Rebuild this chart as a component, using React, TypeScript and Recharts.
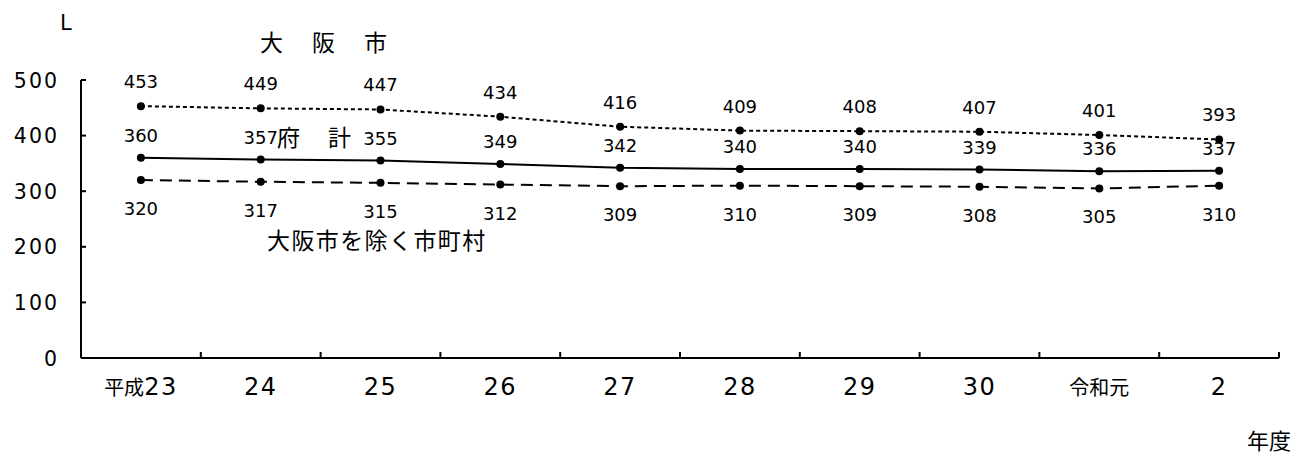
import React from 'react';
import { LineChart, Line, XAxis, YAxis, LabelList, Customized } from 'recharts';

const categories = ['平成23', '24', '25', '26', '27', '28', '29', '30', '令和元', '2'];
const osakaCity = [453, 449, 447, 434, 416, 409, 408, 407, 401, 393];
const prefTotal = [360, 357, 355, 349, 342, 340, 340, 339, 336, 337];
const otherMunicipalities = [320, 317, 315, 312, 309, 310, 309, 308, 305, 310];
const yTicks = [0, 100, 200, 300, 400, 500];

const data = categories.map((c, i) => ({
  year: c,
  osaka: osakaCity[i],
  total: prefTotal[i],
  others: otherMunicipalities[i],
}));

const W = 1296;
const H = 454;
const Y_W = 81;
const X_H = 96;
const MARGIN = { top: 80, right: 17, bottom: 0, left: 0 };
const BAND = (W - MARGIN.right - Y_W) / categories.length;

const NUM_FONT = '"DejaVu Sans", "Noto Sans CJK JP", sans-serif';
const CJK_FONT = '"Noto Sans CJK JP", "DejaVu Sans", sans-serif';

const YTick = (props: any) => {
  const { x, y, payload } = props;
  return (
    <g>
      <line x1={x} x2={x + 5} y1={y} y2={y} stroke="#000" strokeWidth={2} />
      <text x={x - 22} y={y + 7.5} textAnchor="end" fontFamily={NUM_FONT} fontSize={20.5} letterSpacing={2} fill="#000">
        {payload.value}
      </text>
    </g>
  );
};

const XTick = (props: any) => {
  const { x, y, payload } = props;
  const m = String(payload.value).match(/^(\D*)(\d*)$/);
  const pre = m ? m[1] : '';
  const num = m ? m[2] : String(payload.value);
  return (
    <g>
      <line x1={x + BAND / 2} x2={x + BAND / 2} y1={y} y2={y - 6} stroke="#000" strokeWidth={2} />
      <text x={x} y={y + 37} textAnchor="middle" fill="#000">
        {pre && (
          <tspan fontFamily={CJK_FONT} fontSize={20}>
            {pre}
          </tspan>
        )}
        {num && (
          <tspan fontFamily={NUM_FONT} fontSize={24} letterSpacing={1.5}>
            {num}
          </tspan>
        )}
      </text>
    </g>
  );
};

const makeLabel = (dy: number) => (props: any) => {
  const { x, y, value } = props;
  return (
    <text x={x} y={y + dy} textAnchor="middle" fontFamily={NUM_FONT} fontSize={18} fill="#000">
      {value}
    </text>
  );
};

const Annotations = () => (
  <g fill="#000">
    <text x={60} y={30} fontFamily={NUM_FONT} fontSize={21}>L</text>
    <text x={260} y={51} fontFamily={CJK_FONT} fontSize={23} letterSpacing={3}>大　阪　市</text>
    <text x={277} y={146} fontFamily={CJK_FONT} fontSize={23} letterSpacing={2.5}>府　計</text>
    <text x={267} y={249} fontFamily={CJK_FONT} fontSize={23} letterSpacing={1.4}>大阪市を除く市町村</text>
    <text x={1247} y={449} fontFamily={CJK_FONT} fontSize={22}>年度</text>
  </g>
);

const dot = { r: 4, fill: '#000', stroke: '#000', strokeWidth: 0 };

export default function App() {
  return (
    <div style={{ position: 'absolute', left: 0, top: 0, width: W, height: H, background: '#fff' }}>
      <LineChart width={W} height={H} data={data} margin={MARGIN}>
        <XAxis
          dataKey="year"
          scale="band"
          height={X_H}
          interval={0}
          tickSize={0}
          tickMargin={0}
          tickLine={false}
          axisLine={{ stroke: '#000', strokeWidth: 2 }}
          tick={<XTick />}
        />
        <YAxis
          width={Y_W}
          domain={[0, 500]}
          ticks={yTicks}
          interval={0}
          tickSize={0}
          tickMargin={0}
          tickLine={false}
          axisLine={{ stroke: '#000', strokeWidth: 2 }}
          tick={<YTick />}
        />
        <Line
          dataKey="osaka"
          stroke="#000"
          strokeWidth={2}
          strokeDasharray="4 3"
          dot={dot}
          activeDot={false}
          isAnimationActive={false}
        >
          <LabelList dataKey="osaka" content={makeLabel(-18)} />
        </Line>
        <Line
          dataKey="total"
          stroke="#000"
          strokeWidth={2}
          dot={dot}
          activeDot={false}
          isAnimationActive={false}
        >
          <LabelList dataKey="total" content={makeLabel(-16)} />
        </Line>
        <Line
          dataKey="others"
          stroke="#000"
          strokeWidth={2}
          strokeDasharray="12 7"
          dot={dot}
          activeDot={false}
          isAnimationActive={false}
        >
          <LabelList dataKey="others" content={makeLabel(35)} />
        </Line>
        <Customized component={Annotations} />
      </LineChart>
    </div>
  );
}
